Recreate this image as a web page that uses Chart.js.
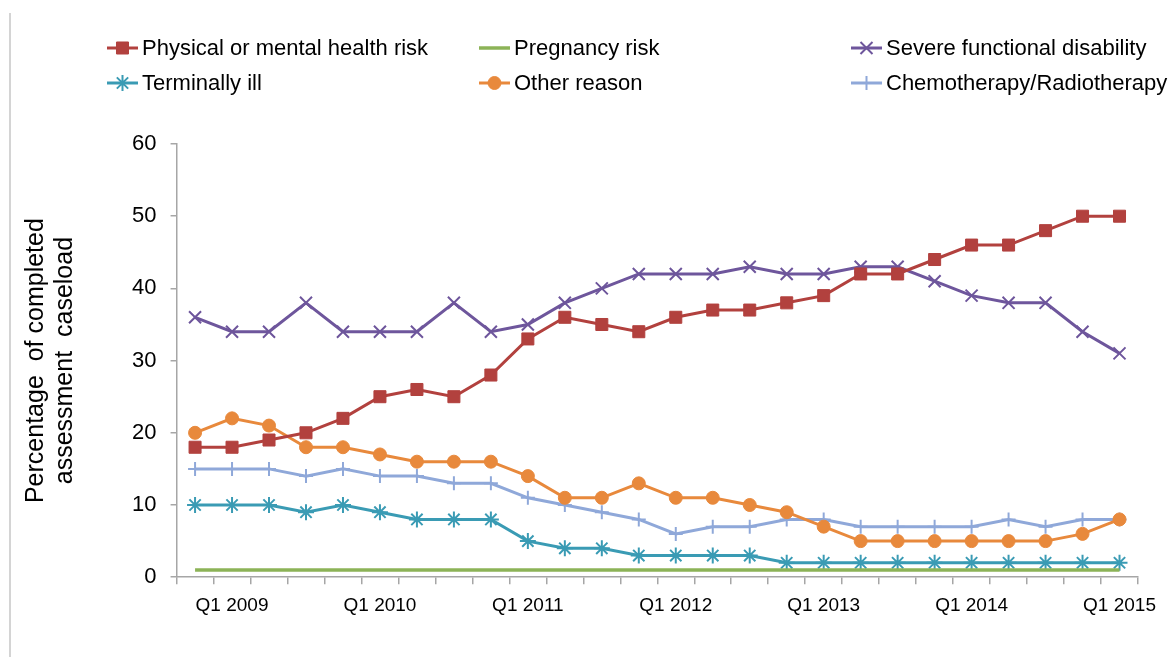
<!DOCTYPE html>
<html>
<head>
<meta charset="utf-8">
<script src="https://cdn.jsdelivr.net/npm/chart.js@4.4.1/dist/chart.umd.min.js"></script>
<style>
    html, body { margin: 0; padding: 0; background: #fff; }
    #wrap { position: relative; width: 1170px; height: 657px; }
    #edge { position: absolute; left: 9px; top: 13px; width: 2px; height: 644px; background: #d4d4d4; }
    #chart { position: absolute; left: 0; top: 0; }
</style>
</head>
<body>
<div id="wrap">
    <div id="edge"></div>
    <canvas id="chart" width="1170" height="657"></canvas>
</div>
<script>
///////////////////////////
// DATA
///////////////////////////

const quarters = [
    "Q4 2008",
    "Q1 2009", "Q2 2009", "Q3 2009", "Q4 2009",
    "Q1 2010", "Q2 2010", "Q3 2010", "Q4 2010",
    "Q1 2011", "Q2 2011", "Q3 2011", "Q4 2011",
    "Q1 2012", "Q2 2012", "Q3 2012", "Q4 2012",
    "Q1 2013", "Q2 2013", "Q3 2013", "Q4 2013",
    "Q1 2014", "Q2 2014", "Q3 2014", "Q4 2014",
    "Q1 2015"
];

const physicalMental = [18, 18, 19, 20, 22, 25, 26, 25, 28, 33, 36, 35, 34, 36, 37, 37, 38, 39, 42, 42, 44, 46, 46, 48, 50, 50];
const pregnancy      = [1, 1, 1, 1, 1, 1, 1, 1, 1, 1, 1, 1, 1, 1, 1, 1, 1, 1, 1, 1, 1, 1, 1, 1, 1, 1];
const severeDisab    = [36, 34, 34, 38, 34, 34, 34, 38, 34, 35, 38, 40, 42, 42, 42, 43, 42, 42, 43, 43, 41, 39, 38, 38, 34, 31];
const terminallyIll  = [10, 10, 10, 9, 10, 9, 8, 8, 8, 5, 4, 4, 3, 3, 3, 3, 2, 2, 2, 2, 2, 2, 2, 2, 2, 2];
const otherReason    = [20, 22, 21, 18, 18, 17, 16, 16, 16, 14, 11, 11, 13, 11, 11, 10, 9, 7, 5, 5, 5, 5, 5, 5, 6, 8];
const chemoRadio     = [15, 15, 15, 14, 15, 14, 14, 13, 13, 11, 10, 9, 8, 6, 7, 7, 8, 8, 7, 7, 7, 7, 8, 7, 8, 8];

const yTicks = [0, 10, 20, 30, 40, 50, 60];

///////////////////////////
// LEGEND (3 columns, 2 rows)
///////////////////////////

const FONT = '"Liberation Sans", Arial, sans-serif';

const gridLegend = {
    id: "gridLegend",
    afterDraw(chart) {
        const ctx = chart.ctx;
        const colX = [107, 479, 851];
        const rowY = [48, 83];

        chart.data.datasets.forEach((ds, i) => {
            const x = colX[i % 3];
            const y = rowY[Math.floor(i / 3)];
            ctx.save();
            ctx.strokeStyle = ds.borderColor;
            ctx.lineWidth = ds.borderWidth;
            ctx.beginPath();
            ctx.moveTo(x, y);
            ctx.lineTo(x + 31, y);
            ctx.stroke();

            if (ds.pointRadius > 0) {
                ctx.fillStyle = ds.pointBackgroundColor;
                ctx.strokeStyle = ds.pointBorderColor;
                ctx.lineWidth = ds.pointBorderWidth;
                Chart.helpers.drawPoint(ctx, {
                    pointStyle: ds.pointStyle,
                    radius: ds.pointRadius,
                    rotation: 0,
                    borderWidth: ds.pointBorderWidth
                }, x + 15.5, y);
            }

            ctx.fillStyle = "#000";
            ctx.font = `22px ${FONT}`;
            ctx.textBaseline = "middle";
            ctx.fillText(ds.label, x + 35, y + 1);
            ctx.restore();
        });
    }
};

///////////////////////////
// CHART
///////////////////////////

function series(label, data, color, style, radius, pbw, width) {
    return {
        label: label,
        data: data,
        borderColor: color,
        backgroundColor: color,
        borderWidth: width || 3,
        pointStyle: style,
        pointRadius: radius,
        pointHoverRadius: radius,
        pointBackgroundColor: color,
        pointBorderColor: color,
        pointBorderWidth: pbw,
        tension: 0,
        fill: false
    };
}

const ctx = document.getElementById("chart").getContext("2d");

new Chart(ctx, {
    type: "line",
    data: {
        labels: quarters,
        datasets: [
            series("Physical or mental health risk", physicalMental, "#B2413E", "rect", 8.5, 1),
            series("Pregnancy risk", pregnancy, "#8CB357", "circle", 0, 0, 3.5),
            series("Severe functional disability", severeDisab, "#6E569C", "crossRot", 8.5, 2),
            series("Terminally ill", terminallyIll, "#3A9BB4", "star", 8, 2),
            series("Other reason", otherReason, "#E8893C", "circle", 6.5, 1),
            series("Chemotherapy/Radiotherapy", chemoRadio, "#8FA8D9", "cross", 7, 2)
        ]
    },
    options: {
        responsive: false,
        animation: false,
        layout: { padding: { left: 10, right: 32, top: 144, bottom: 30 } },
        plugins: {
            legend: { display: false },
            tooltip: { enabled: false }
        },
        scales: {
            x: {
                type: "category",
                offset: true,
                grid: {
                    offset: true,
                    drawOnChartArea: false,
                    drawTicks: true,
                    tickLength: 7,
                    color: "#a6a6a6",
                    lineWidth: 1.5
                },
                border: { color: "#a6a6a6", width: 1.5 },
                ticks: {
                    autoSkip: false,
                    maxRotation: 0,
                    padding: 10,
                    color: "#000",
                    font: { family: FONT, size: 19 },
                    callback: (v, i) => (i % 4 === 1 ? quarters[i] : "")
                }
            },
            y: {
                min: yTicks[0],
                max: yTicks[yTicks.length - 1],
                grid: {
                    drawOnChartArea: false,
                    drawTicks: true,
                    tickLength: 6,
                    color: "#a6a6a6",
                    lineWidth: 1.5
                },
                border: { color: "#a6a6a6", width: 1.5 },
                afterBuildTicks: axis => { axis.ticks = yTicks.map(v => ({ value: v })); },
                ticks: {
                    padding: 14,
                    color: "#000",
                    font: { family: FONT, size: 22 }
                },
                title: {
                    display: true,
                    text: ["Percentage  of completed", "assessment  caseload"],
                    color: "#000",
                    font: { family: FONT, size: 25, lineHeight: 1.15 },
                    padding: { top: 11.6, bottom: 39 }
                }
            }
        }
    },
    plugins: [gridLegend]
});
</script>
</body>
</html>
